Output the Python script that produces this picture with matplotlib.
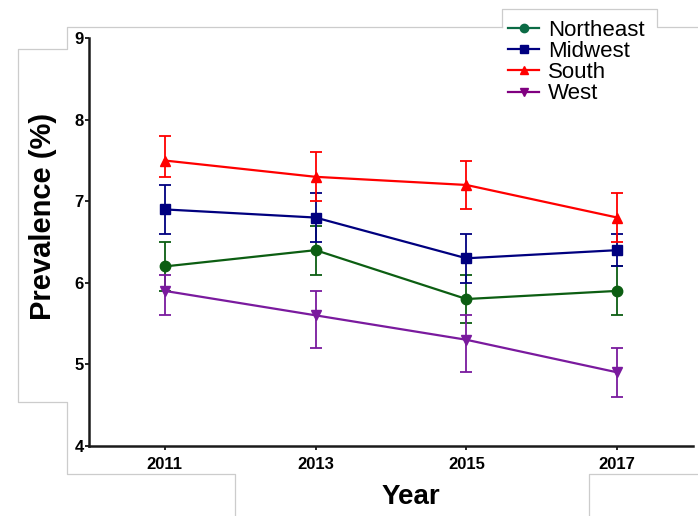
import matplotlib
matplotlib.use("Agg")
import matplotlib.pyplot as plt
from matplotlib.lines import Line2D

plt.rcParams['font.family'] = ['Liberation Sans', 'DejaVu Sans']

years = [2011, 2013, 2015, 2017]

northeast = [6.2, 6.4, 5.8, 5.9]
northeast_lo = [5.9, 6.1, 5.5, 5.6]
northeast_hi = [6.5, 6.7, 6.1, 6.2]

midwest = [6.9, 6.8, 6.3, 6.4]
midwest_lo = [6.6, 6.5, 6.0, 6.2]
midwest_hi = [7.2, 7.1, 6.6, 6.6]

south = [7.5, 7.3, 7.2, 6.8]
south_lo = [7.3, 7.0, 6.9, 6.5]
south_hi = [7.8, 7.6, 7.5, 7.1]

west = [5.9, 5.6, 5.3, 4.9]
west_lo = [5.6, 5.2, 4.9, 4.6]
west_hi = [6.1, 5.9, 5.6, 5.2]

regions = ['Northeast', 'Midwest', 'South', 'West']
series = [
    (northeast, northeast_lo, northeast_hi, '#0c5e12', 'o', 7.5),
    (midwest, midwest_lo, midwest_hi, '#00007f', 's', 7.5),
    (south, south_lo, south_hi, '#ff0000', '^', 7.5),
    (west, west_lo, west_hi, '#7a1a9e', 'v', 7.5),
]
legend_colors = ['#0b6b45', '#000080', '#ff0000', '#800080']

W, H = 698, 516
fig = plt.figure(figsize=(W / 100, H / 100), dpi=100)
ax = fig.add_axes([89.3 / W, 1 - 445.7 / H, (692.7 - 89.3) / W, (445.7 - 38.3) / H])

for (vals, lo, hi, col, mk, ms) in series:
    err = [[v - l for v, l in zip(vals, lo)], [h - v for v, h in zip(vals, hi)]]
    ax.errorbar(years, vals, yerr=err, color=col, marker=mk, markersize=ms,
                linewidth=1.6, elinewidth=1.3, capsize=4, capthick=1.3)

ax.set_xlim(2010, 2018)
ax.set_ylim(4, 9)
ax.set_xticks(years)
ax.set_yticks([4, 5, 6, 7, 8, 9])
for s in ['top', 'right']:
    ax.spines[s].set_visible(False)
for s in ['left', 'bottom']:
    ax.spines[s].set_linewidth(1.8)
    ax.spines[s].set_color('#1a1a1a')
ax.tick_params(axis='y', length=3, width=1.2, pad=1, labelsize=12)
ax.tick_params(axis='x', length=3, width=1.2, pad=5, labelsize=12)
for lab in ax.get_xticklabels() + ax.get_yticklabels():
    lab.set_fontweight('bold')

fig.text(43.3 / W, 1 - 216.5 / H, 'Prevalence (%)', rotation=90, ha='center',
         va='center', fontsize=21, fontweight='bold')
fig.text(410.5 / W, 1 - 497 / H, 'Year', ha='center', va='center',
         fontsize=20, fontweight='bold')

handles = [Line2D([], [], color=c, marker=m, markersize=6, linewidth=1.6)
           for c, m in zip(legend_colors, ['o', 's', '^', 'v'])]
fig.legend(handles, regions, loc='upper left', bbox_to_anchor=(508 / W, 1 - 19.8 / H),
           frameon=False, fontsize=16, handlelength=1.4, handletextpad=0.4,
           labelspacing=0.01, borderpad=0, borderaxespad=0)

# light grey frame edges around the figure
grey = '#cccccc'
def frame(xs, ys):
    fig.add_artist(Line2D([x / W for x in xs], [1 - y / H for y in ys],
                          color=grey, linewidth=0.9, transform=fig.transFigure))

frame([501.7, 67, 67, 18.3, 18.3, 66.7, 66.7, 235.3, 235.3],
      [27, 27, 49.3, 49.3, 402.3, 402.3, 474, 474, 516])
frame([588.7, 588.7, 698], [516, 474.3, 474.3])
frame([501.7, 501.7, 657.3, 657.3, 698], [27, 9.3, 9.3, 27, 27])

fig.savefig('out.png', dpi=100)
